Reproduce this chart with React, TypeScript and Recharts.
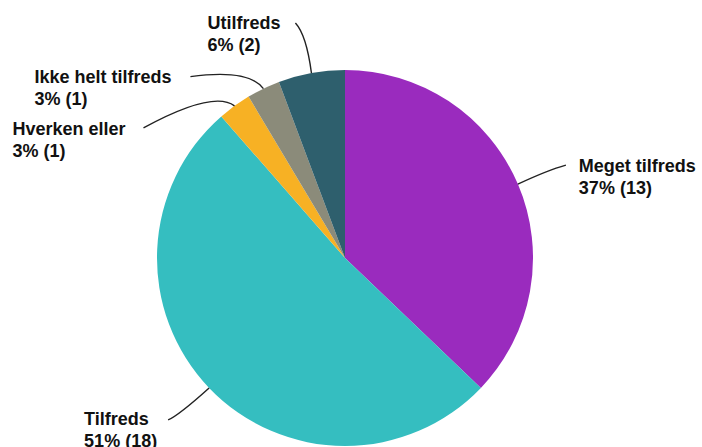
import { PieChart, Pie, Cell } from 'recharts';

const categories = ['Meget tilfreds', 'Tilfreds', 'Hverken eller', 'Ikke helt tilfreds', 'Utilfreds'];
const counts = [13, 18, 1, 1, 2];
const colors = ['#9A2BBE', '#35BEC0', '#F7B124', '#8B8B7A', '#2E5F6D'];

// leader line shape per slice, offsets from the slice's outer edge point
const labelLayout = [
  { ctrl: [30, -14], end: [48, -19], text: [13, 7] },
  { ctrl: [-30, 27], end: [-41, 32], text: [-84, 5] },
  { ctrl: [-21, -16], end: [-91, 22], text: [-131, 7] },
  { ctrl: [-15, -20], end: [-73, -12], text: [-156, 6] },
  { ctrl: [-5, -38], end: [-16, -50], text: [-88, 6] },
];

const data = categories.map((name, i) => ({ name, value: counts[i] }));

const RADIAN = Math.PI / 180;

function renderLabel(props: any) {
  const { cx, cy, midAngle, outerRadius, index, percent, name, value } = props;
  const sx = cx + outerRadius * Math.cos(-midAngle * RADIAN);
  const sy = cy + outerRadius * Math.sin(-midAngle * RADIAN);
  const l = labelLayout[index];
  const qx = sx + l.ctrl[0];
  const qy = sy + l.ctrl[1];
  const ex = sx + l.end[0];
  const ey = sy + l.end[1];
  const tx = ex + l.text[0];
  const ty = ey + l.text[1];
  return (
    <g key={`lbl-${index}`}>
      <path d={`M${sx},${sy} Q${qx},${qy} ${ex},${ey}`} stroke="#222" strokeWidth={1.4} fill="none" />
      <text x={tx} y={ty} fill="#111" fontSize={18} fontWeight="bold" fontFamily="Liberation Sans, Arial, sans-serif">
        <tspan x={tx}>{name}</tspan>
        <tspan x={tx} dy={22}>{`${Math.round(percent * 100)}% (${value})`}</tspan>
      </text>
    </g>
  );
}

export default function App() {
  return (
    <div style={{ position: 'fixed', left: 0, top: 0, width: 702, height: 447, background: '#fff' }}>
      <PieChart width={702} height={447} margin={{ top: 0, right: 0, bottom: 0, left: 0 }}>
        <Pie
          data={data}
          dataKey="value"
          nameKey="name"
          cx={345}
          cy={258}
          outerRadius={188}
          startAngle={90}
          endAngle={-270}
          stroke="none"
          label={renderLabel}
          labelLine={false}
          isAnimationActive={false}
        >
          {data.map((d, i) => (
            <Cell key={d.name} fill={colors[i]} />
          ))}
        </Pie>
      </PieChart>
    </div>
  );
}
